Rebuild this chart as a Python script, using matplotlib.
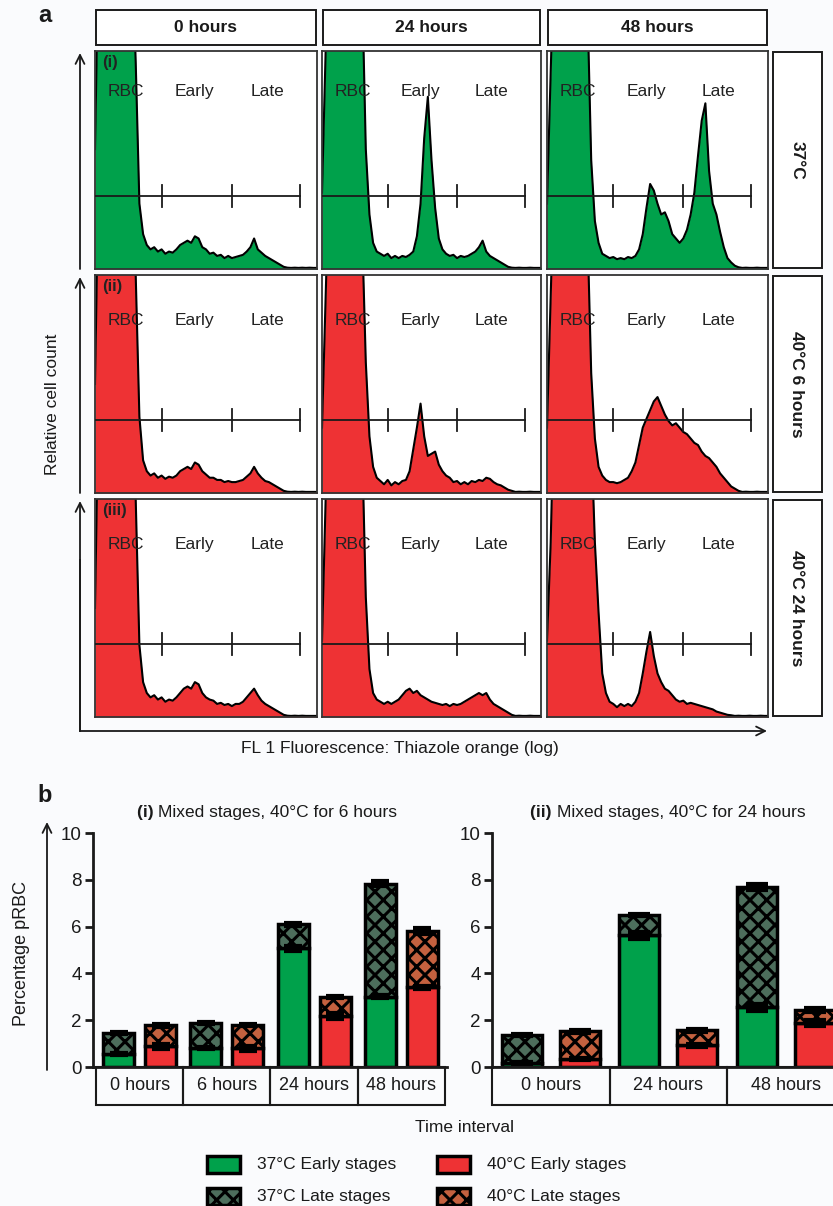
import numpy as np
import matplotlib
matplotlib.use('Agg')
import matplotlib.pyplot as plt
from matplotlib.patches import Rectangle
from matplotlib import font_manager as fm

W, H = 833, 1206
DPI = 100

names = {f.name for f in fm.fontManager.ttflist}
BASE = 'Liberation Sans' if 'Liberation Sans' in names else 'DejaVu Sans'
NARROW = 'Liberation Sans Narrow' if 'Liberation Sans Narrow' in names else BASE
plt.rcParams['font.family'] = [BASE, 'DejaVu Sans']
plt.rcParams['hatch.linewidth'] = 2.2

GREEN = '#00A14B'
RED = '#EE3234'
GREEN_LATE = '#4D6E5C'
RED_LATE = '#C4613F'
INK = '#1a1a1a'

# ---------------- data: panel a (flow cytometry histograms) ----------------
TIMES_A = ['0 hours', '24 hours', '48 hours']
CONDITIONS = ['37°C', '40°C 6 hours', '40°C 24 hours']
ROMAN = ['(i)', '(ii)', '(iii)']
GATE_LABELS = ['RBC', 'Early', 'Late']
HIST_BINS = np.linspace(0, 1, 61)   # relative log-fluorescence position

hist_37_0 = [0.55, 1.5, 1.5, 1.5, 1.5, 1.5, 1.5, 1.5, 1.5, 1.5,
             1.5, 0.95, 0.30, 0.16, 0.11, 0.09, 0.10, 0.08, 0.09, 0.07,
             0.08, 0.075, 0.09, 0.11, 0.12, 0.13, 0.12, 0.15, 0.14, 0.10,
             0.09, 0.07, 0.075, 0.06, 0.065, 0.05, 0.06, 0.05, 0.055, 0.06,
             0.065, 0.08, 0.10, 0.14, 0.09, 0.075, 0.06, 0.05, 0.04, 0.03,
             0.02, 0.01, 0.006, 0.005, 0.006, 0.005, 0.006, 0.005, 0.006, 0.005, 0.005]
hist_37_24 = [0.35, 1.0, 1.5, 1.5, 1.5, 1.5, 1.5, 1.5, 1.5, 1.5,
              1.5, 1.3, 0.55, 0.25, 0.12, 0.08, 0.07, 0.06, 0.07, 0.05,
              0.06, 0.05, 0.06, 0.055, 0.065, 0.08, 0.15, 0.30, 0.60, 0.79,
              0.50, 0.28, 0.14, 0.09, 0.07, 0.06, 0.065, 0.05, 0.06, 0.055,
              0.06, 0.07, 0.08, 0.10, 0.13, 0.08, 0.06, 0.05, 0.04, 0.03,
              0.02, 0.01, 0.006, 0.005, 0.006, 0.005, 0.005, 0.006, 0.005, 0.005, 0.005]
hist_37_48 = [0.3, 0.9, 1.5, 1.5, 1.5, 1.5, 1.5, 1.5, 1.5, 1.5,
              1.5, 1.2, 0.5, 0.22, 0.12, 0.07, 0.06, 0.05, 0.055, 0.045,
              0.05, 0.045, 0.055, 0.05, 0.06, 0.09, 0.16, 0.28, 0.39, 0.36,
              0.30, 0.25, 0.26, 0.22, 0.16, 0.14, 0.12, 0.14, 0.18, 0.25,
              0.35, 0.52, 0.68, 0.76, 0.45, 0.30, 0.25, 0.17, 0.10, 0.05,
              0.03, 0.015, 0.008, 0.005, 0.006, 0.005, 0.005, 0.006, 0.005, 0.005, 0.005]
hist_40s_0 = [0.5, 1.5, 1.5, 1.5, 1.5, 1.5, 1.5, 1.5, 1.5, 1.5,
              1.5, 1.0, 0.35, 0.15, 0.10, 0.08, 0.09, 0.07, 0.08, 0.065,
              0.075, 0.07, 0.08, 0.10, 0.11, 0.12, 0.11, 0.14, 0.13, 0.10,
              0.085, 0.07, 0.07, 0.06, 0.06, 0.05, 0.055, 0.05, 0.05, 0.055,
              0.06, 0.075, 0.09, 0.12, 0.09, 0.07, 0.055, 0.05, 0.04, 0.03,
              0.02, 0.01, 0.006, 0.005, 0.006, 0.005, 0.006, 0.005, 0.005, 0.005, 0.005]
hist_40s_24 = [0.3, 0.9, 1.5, 1.5, 1.5, 1.5, 1.5, 1.5, 1.5, 1.5,
               1.5, 1.2, 0.6, 0.26, 0.12, 0.07, 0.055, 0.04, 0.06, 0.035,
               0.05, 0.04, 0.055, 0.06, 0.10, 0.20, 0.30, 0.41, 0.26, 0.17,
               0.18, 0.19, 0.13, 0.10, 0.08, 0.07, 0.05, 0.055, 0.04, 0.05,
               0.04, 0.055, 0.05, 0.06, 0.055, 0.07, 0.065, 0.05, 0.04, 0.035,
               0.025, 0.015, 0.01, 0.005, 0.006, 0.005, 0.005, 0.006, 0.005, 0.005, 0.005]
hist_40s_48 = [0.3, 0.9, 1.5, 1.5, 1.5, 1.5, 1.5, 1.5, 1.5, 1.5,
               1.5, 1.2, 0.55, 0.25, 0.12, 0.08, 0.06, 0.05, 0.05, 0.045,
               0.05, 0.06, 0.07, 0.10, 0.14, 0.22, 0.30, 0.34, 0.38, 0.42,
               0.44, 0.40, 0.36, 0.33, 0.31, 0.32, 0.30, 0.28, 0.27, 0.25,
               0.23, 0.22, 0.19, 0.17, 0.16, 0.14, 0.12, 0.09, 0.07, 0.05,
               0.03, 0.02, 0.01, 0.005, 0.006, 0.005, 0.005, 0.006, 0.005, 0.005, 0.005]
hist_40l_0 = [0.5, 1.5, 1.5, 1.5, 1.5, 1.5, 1.5, 1.5, 1.5, 1.5,
              1.5, 1.0, 0.33, 0.16, 0.11, 0.09, 0.10, 0.08, 0.09, 0.07,
              0.08, 0.075, 0.09, 0.11, 0.13, 0.14, 0.13, 0.16, 0.15, 0.11,
              0.09, 0.08, 0.075, 0.06, 0.065, 0.055, 0.06, 0.05, 0.06, 0.06,
              0.07, 0.09, 0.11, 0.13, 0.10, 0.075, 0.06, 0.05, 0.04, 0.03,
              0.02, 0.01, 0.006, 0.005, 0.006, 0.005, 0.006, 0.005, 0.005, 0.005, 0.005]
hist_40l_24 = [0.35, 1.0, 1.5, 1.5, 1.5, 1.5, 1.5, 1.5, 1.5, 1.5,
               1.5, 1.25, 0.55, 0.22, 0.11, 0.08, 0.07, 0.06, 0.07, 0.06,
               0.07, 0.08, 0.10, 0.12, 0.13, 0.11, 0.12, 0.10, 0.09, 0.08,
               0.07, 0.065, 0.06, 0.055, 0.06, 0.05, 0.06, 0.055, 0.06, 0.07,
               0.08, 0.09, 0.10, 0.11, 0.10, 0.11, 0.08, 0.06, 0.05, 0.04,
               0.03, 0.02, 0.01, 0.005, 0.006, 0.005, 0.005, 0.006, 0.005, 0.005, 0.005]
hist_40l_48 = [0.35, 0.8, 1.5, 1.5, 1.5, 1.5, 1.5, 1.5, 1.5, 1.5,
               1.5, 1.5, 1.3, 0.8, 0.48, 0.20, 0.11, 0.07, 0.06, 0.045,
               0.06, 0.05, 0.06, 0.05, 0.07, 0.11, 0.20, 0.30, 0.39, 0.28,
               0.20, 0.16, 0.13, 0.12, 0.10, 0.08, 0.07, 0.075, 0.06, 0.065,
               0.06, 0.055, 0.05, 0.045, 0.04, 0.035, 0.025, 0.02, 0.015, 0.01,
               0.008, 0.005, 0.006, 0.005, 0.005, 0.006, 0.005, 0.005, 0.006, 0.005, 0.005]
HISTS = [[hist_37_0, hist_37_24, hist_37_48],
         [hist_40s_0, hist_40s_24, hist_40s_48],
         [hist_40l_0, hist_40l_24, hist_40l_48]]
GATE_Y = 0.335
GATE_TICKS = [0.30, 0.615, 0.925]

# ---------------- data: panel b (percentage pRBC) ----------------
TIMES_B1 = ['0 hours', '6 hours', '24 hours', '48 hours']
early37_b1 = [0.55, 0.80, 5.07, 3.01]
late37_b1 = [0.90, 1.08, 1.02, 4.83]
early40_b1 = [0.88, 0.80, 2.19, 3.41]
late40_b1 = [0.90, 1.00, 0.79, 2.40]
err_early37_b1 = [0.04, 0.04, 0.12, 0.05]
err_total37_b1 = [0.04, 0.04, 0.05, 0.10]
err_early40_b1 = [0.12, 0.10, 0.12, 0.06]
err_total40_b1 = [0.05, 0.05, 0.05, 0.11]

TIMES_B2 = ['0 hours', '24 hours', '48 hours']
early37_b2 = [0.17, 5.64, 2.56]
late37_b2 = [1.21, 0.85, 5.14]
early40_b2 = [0.34, 0.92, 1.88]
late40_b2 = [1.18, 0.64, 0.56]
err_early37_b2 = [0.06, 0.15, 0.15]
err_total37_b2 = [0.05, 0.05, 0.12]
err_early40_b2 = [0.06, 0.08, 0.13]
err_total40_b2 = [0.05, 0.05, 0.08]

LEGEND_LABELS = ['37°C Early stages', '37°C Late stages',
                 '40°C Early stages', '40°C Late stages']

# ---------------- figure ----------------
fig = plt.figure(figsize=(W / DPI, H / DPI), dpi=DPI)
fig.patch.set_facecolor('#fafbfd')

ov = fig.add_axes([0, 0, 1, 1])
ov.set_xlim(0, W)
ov.set_ylim(H, 0)
ov.axis('off')


def px_axes(x0, y0, x1, y1, **kw):
    return fig.add_axes([x0 / W, 1 - y1 / H, (x1 - x0) / W, (y1 - y0) / H], **kw)


def arrow(x0, y0, x1, y1):
    ov.annotate('', xy=(x1, y1), xytext=(x0, y0),
                arrowprops=dict(arrowstyle='->', lw=1.3, color=INK,
                                mutation_scale=16, shrinkA=0, shrinkB=0))


# ---- panel a ----
COLS = [(95, 317), (322, 541), (547, 768)]
ROWS = [(51, 269), (275, 493), (499, 717)]
LAB_Y = [0.815, 0.79, 0.79]

for c, (x0, x1) in enumerate(COLS):
    ov.add_patch(Rectangle((x0 + 1, 10), x1 - x0 - 2, 35, fill=True, facecolor='white',
                           edgecolor=INK, lw=1.4))
    ov.text((x0 + x1) / 2, 28, TIMES_A[c], ha='center', va='center', fontsize=12.5,
            fontweight='bold', family=NARROW, color=INK)

for r, (y0, y1) in enumerate(ROWS):
    ov.add_patch(Rectangle((773, y0 + 1), 49, y1 - y0 - 2, facecolor='white',
                           edgecolor=INK, lw=1.4))
    ov.text(797, (y0 + y1) / 2, CONDITIONS[r], ha='center', va='center', fontsize=12.5,
            fontweight='bold', family=NARROW, rotation=-90, color=INK)
    fill = GREEN if r == 0 else RED
    for c, (x0, x1) in enumerate(COLS):
        ax = px_axes(x0, y0, x1, y1)
        ax.set_facecolor('white')
        vals = HISTS[r][c]
        ax.fill_between(HIST_BINS, 0, vals, color=fill, lw=0, zorder=1)
        ax.plot(HIST_BINS, vals, color='black', lw=1.5, zorder=2)
        ax.plot([0, GATE_TICKS[-1]], [GATE_Y, GATE_Y], color=INK, lw=1.3, zorder=3)
        for t in GATE_TICKS:
            ax.plot([t, t], [GATE_Y - 0.05, GATE_Y + 0.05], color=INK, lw=1.3, zorder=3)
        for lab, lx in zip(GATE_LABELS, [0.14, 0.45, 0.775]):
            ax.text(lx, LAB_Y[r], lab, ha='center', va='center', fontsize=12.5,
                    color='#222222', zorder=5)
        if c == 0:
            ax.text(0.03, 0.945, ROMAN[r], ha='left', va='center', fontsize=12,
                    fontweight='bold', color='#222222', zorder=5)
        ax.set_xlim(0, 1)
        ax.set_ylim(0, 1)
        ax.set_xticks([])
        ax.set_yticks([])
        for s in ax.spines.values():
            s.set_linewidth(1.3)
            s.set_color('#333333')

arrow(80, 269, 80, 53)
arrow(80, 493, 80, 277)
ov.plot([80, 80], [731, 560], color=INK, lw=1.3)
arrow(80, 731, 80, 501)
arrow(80, 731, 767, 731)
ov.text(53, 404, 'Relative cell count', rotation=90, ha='center', va='center',
        fontsize=12.5, color=INK)
ov.text(400, 749, 'FL 1 Fluorescence: Thiazole orange (log)', ha='center', va='center',
        fontsize=12.5, color=INK)
ov.text(45, 15, 'a', ha='center', va='center', fontsize=17, fontweight='bold', color=INK)
ov.text(45, 795, 'b', ha='center', va='center', fontsize=17, fontweight='bold', color=INK)


# ---- panel b ----
def bar_panel(x_left, x_right, xlim, times, e37, l37, e40, l40,
              ee37, et37, ee40, et40, offset, width):
    ax = px_axes(x_left, 833, x_right, 1067)
    ax.set_xlim(*xlim)
    ax.set_ylim(0, 10)
    ax.patch.set_alpha(0)
    idx = np.arange(len(times))
    cap = width * 0.28 * (x_right - x_left) / (xlim[1] - xlim[0]) / 1.39
    for xs, e, l, ee, et, cf, cl in [(idx - offset, e37, l37, ee37, et37, GREEN, GREEN_LATE),
                                     (idx + offset, e40, l40, ee40, et40, RED, RED_LATE)]:
        e = np.array(e)
        l = np.array(l)
        ax.bar(xs, e, width, color=cf, edgecolor='black', lw=2.5, zorder=2)
        ax.bar(xs, l, width, bottom=e, color=cl, edgecolor='black', lw=2.5,
               hatch='xx', zorder=2)
        ax.errorbar(xs, e, yerr=ee, fmt='none', ecolor='black', elinewidth=2.5,
                    capsize=cap, capthick=3, zorder=4)
        ax.errorbar(xs, e + l, yerr=et, fmt='none', ecolor='black', elinewidth=2.5,
                    capsize=cap, capthick=3, zorder=4)
    for s in ['top', 'right', 'bottom']:
        ax.spines[s].set_visible(False)
    ax.spines['left'].set_linewidth(2)
    ax.spines['left'].set_color(INK)
    ax.set_xticks([])
    ax.set_yticks([0, 2, 4, 6, 8, 10])
    ax.tick_params(axis='y', length=6, width=2, labelsize=13.5, colors=INK, pad=2)

    bx = px_axes(x_left, 1067, x_right, 1105)
    bx.set_xlim(*xlim)
    bx.set_ylim(0, 1)
    bx.axis('off')
    for k, t in enumerate(times):
        bx.add_patch(Rectangle((k - 0.5, 0), 1, 1, fill=False, edgecolor=INK, lw=1.5,
                               clip_on=False))
        bx.text(k, 0.5, t, ha='center', va='center', fontsize=13, family=NARROW, color=INK)
    bx.plot([xlim[0], xlim[1]], [1, 1], color=INK, lw=2, clip_on=False)
    return ax


bar_panel(93, 447, (-0.534, 3.523), TIMES_B1, early37_b1, late37_b1, early40_b1,
          late40_b1, err_early37_b1, err_total37_b1, err_early40_b1, err_total40_b1,
          0.24, 0.355)
bar_panel(492, 844.5, (-0.5, 2.5), TIMES_B2, early37_b2, late37_b2, early40_b2,
          late40_b2, err_early37_b2, err_total37_b2, err_early40_b2, err_total40_b2,
          0.247, 0.34)

arrow(47, 1070, 47, 822)
ov.text(22, 953, 'Percentage pRBC', rotation=90, ha='center', va='center', fontsize=13,
        color=INK)

renderer = fig.canvas.get_renderer()


def two_part(xc, y, bold, rest, size):
    t1 = ov.text(0, y, bold, fontsize=size, fontweight='bold', va='center', color=INK)
    t2 = ov.text(0, y, rest, fontsize=size, va='center', color=INK)
    w1 = t1.get_window_extent(renderer).width
    w2 = t2.get_window_extent(renderer).width
    start = xc - (w1 + w2) / 2
    t1.set_x(start)
    t2.set_x(start + w1)


two_part(267, 812, '(i) ', 'Mixed stages, 40°C for 6 hours', 12.5)
two_part(668, 812, '(ii) ', 'Mixed stages, 40°C for 24 hours', 12.5)

ov.text(465, 1128, 'Time interval', ha='center', va='center', fontsize=12.5, color=INK)

leg = [(207, 1156, GREEN, None, LEGEND_LABELS[0]),
       (207, 1188, GREEN_LATE, 'xx', LEGEND_LABELS[1]),
       (437, 1156, RED, None, LEGEND_LABELS[2]),
       (437, 1188, RED_LATE, 'xx', LEGEND_LABELS[3])]
for x, y, col, hatch, lab in leg:
    ov.add_patch(Rectangle((x, y), 33, 17, facecolor=col, edgecolor='black', lw=2.5,
                           hatch=hatch))
    ov.text(x + 50, y + 8, lab, ha='left', va='center', fontsize=12.5, color=INK)

fig.savefig('out.png', dpi=DPI, facecolor=fig.get_facecolor())
